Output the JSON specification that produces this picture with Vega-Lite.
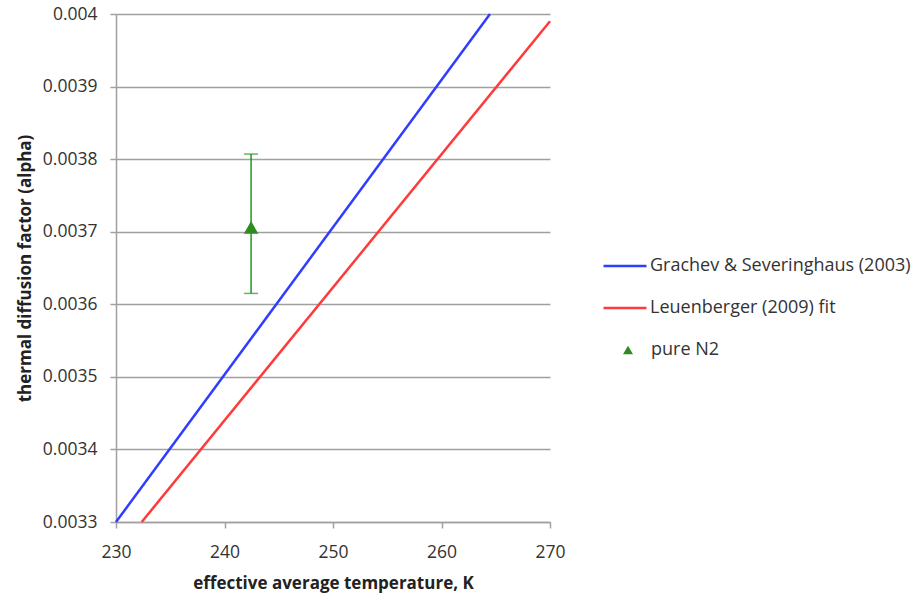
{
  "$schema": "https://vega.github.io/schema/vega-lite/v6.json",
  "width": 434,
  "height": 508,
  "padding": {"left": 116, "top": 14, "right": 367, "bottom": 79},
  "autosize": {"type": "none"},
  "background": "white",
  "config": {
    "view": {"stroke": null},
    "font": "Open Sans",
    "axis": {
      "labelFont": "Open Sans",
      "labelFontSize": 17.5,
      "labelColor": "#333333",
      "titleFont": "Open Sans",
      "titleFontSize": 17,
      "titleFontWeight": "bold",
      "titleColor": "#222222",
      "domainColor": "#a0a0a0",
      "domainWidth": 1.5,
      "tickColor": "#a0a0a0",
      "tickWidth": 1.5,
      "tickSize": 6,
      "gridColor": "#a0a0a0",
      "gridWidth": 1.5
    },
    "legend": {"labelFont": "Open Sans", "labelFontSize": 18, "labelColor": "#333333", "labelLimit": 400}
  },
  "datasets": {
    "lines": [
      {"series": "Grachev & Severinghaus (2003)", "T": 230, "alpha": 0.0033},
      {"series": "Grachev & Severinghaus (2003)", "T": 264.47, "alpha": 0.004},
      {"series": "Leuenberger (2009) fit", "T": 232.37, "alpha": 0.0033},
      {"series": "Leuenberger (2009) fit", "T": 270, "alpha": 0.00399}
    ],
    "points": [
      {"series": "pure N2", "T": 242.45, "alpha": 0.003706, "lo": 0.003615, "hi": 0.003807}
    ]
  },
  "encoding": {},
  "layer": [
    {
      "data": {"name": "lines"},
      "mark": {"type": "line", "strokeWidth": 2.5},
      "encoding": {
        "x": {
          "field": "T", "type": "quantitative",
          "scale": {"domain": [230, 270], "nice": false, "zero": false},
          "axis": {"values": [230, 240, 250, 260, 270], "grid": false, "labelFlush": false, "title": "effective average temperature, K", "titlePadding": 15, "labelPadding": 15}
        },
        "y": {
          "field": "alpha", "type": "quantitative",
          "scale": {"domain": [0.0033, 0.004], "nice": false, "zero": false},
          "axis": {"values": [0.0033, 0.0034, 0.0035, 0.0036, 0.0037, 0.0038, 0.0039, 0.004], "format": "~g", "grid": true, "title": "thermal diffusion factor (alpha)", "titlePadding": 8, "labelPadding": 13}
        },
        "stroke": {
          "field": "series", "type": "nominal",
          "scale": {"domain": ["Grachev & Severinghaus (2003)", "Leuenberger (2009) fit"], "range": ["#2f3dff", "#ff3a3a"]},
          "legend": {"title": null, "orient": "none", "legendX": 486, "legendY": 229, "symbolType": "stroke", "symbolSize": 1849, "symbolStrokeWidth": 2.5, "rowPadding": 10, "labelOffset": 2}
        },
        "detail": {"field": "series"}
      }
    },
    {
      "data": {"name": "points"},
      "mark": {"type": "rule", "color": "#1f9a1f", "strokeWidth": 1.5},
      "encoding": {
        "x": {"field": "T", "type": "quantitative"},
        "y": {"field": "lo", "type": "quantitative"},
        "y2": {"field": "hi"}
      }
    },
    {
      "data": {"name": "points"},
      "mark": {"type": "tick", "orient": "horizontal", "color": "#1f9a1f", "size": 14, "thickness": 1.5},
      "encoding": {
        "x": {"field": "T", "type": "quantitative"},
        "y": {"field": "lo", "type": "quantitative"}
      }
    },
    {
      "data": {"name": "points"},
      "mark": {"type": "tick", "orient": "horizontal", "color": "#1f9a1f", "size": 14, "thickness": 1.5},
      "encoding": {
        "x": {"field": "T", "type": "quantitative"},
        "y": {"field": "hi", "type": "quantitative"}
      }
    },
    {
      "data": {"name": "points"},
      "mark": {"type": "point", "filled": true, "color": "#2e8b1e", "opacity": 1, "size": 210},
      "encoding": {
        "x": {"field": "T", "type": "quantitative"},
        "y": {"field": "alpha", "type": "quantitative"},
        "shape": {
          "field": "series", "type": "nominal",
          "scale": {"domain": ["pure N2"], "range": ["triangle-up"]},
          "legend": {"title": null, "orient": "none", "legendX": 503, "legendY": 327, "symbolSize": 100, "symbolFillColor": "#2e8b1e", "labelOffset": 14}
        }
      }
    }
  ]
}
